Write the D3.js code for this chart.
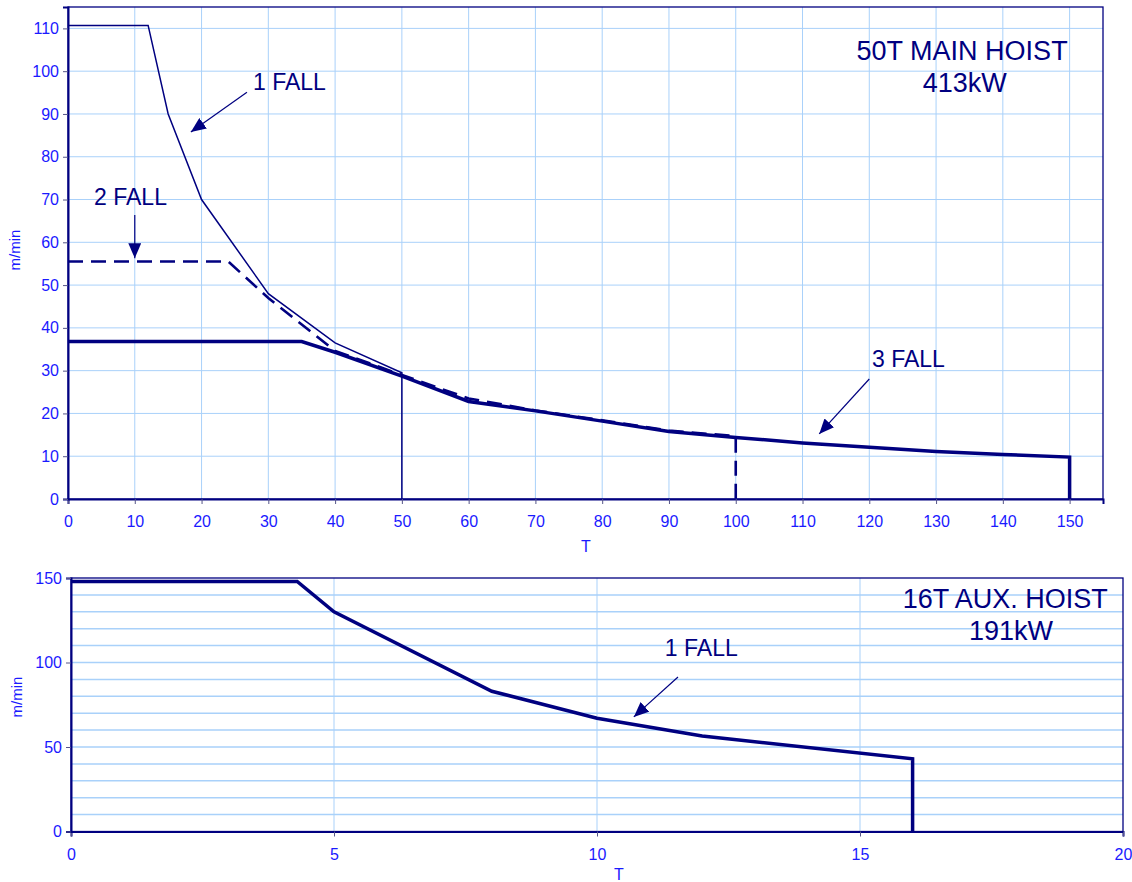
<!DOCTYPE html>
<html><head><meta charset="utf-8">
<script src="https://cdn.jsdelivr.net/npm/d3@7"></script>
<style>body{margin:0;background:#fff} svg{display:block} text{font-family:"Liberation Sans",Arial,sans-serif}</style>
</head><body><svg id="c" width="1132" height="882"></svg>
<script>
// ---- data: 50T main hoist ----
const mainXTicks = d3.range(0, 151, 10);
const mainYTicks = d3.range(0, 111, 10);
const main1FallT = [0, 12, 15, 20, 30, 40, 50, 50];
const main1FallV = [110.7, 110.7, 90, 70, 48, 36.5, 29.5, 0];
const main2FallT = [0, 24, 30, 40, 50, 60, 70, 80, 90, 100, 100];
const main2FallV = [55.5, 55.5, 47, 34.6, 29, 23.5, 20.7, 18.4, 16, 14.7, 0];
const main3FallT = [0, 35, 40, 50, 60, 70, 80, 90, 100, 110, 120, 130, 140, 150, 150];
const main3FallV = [36.8, 36.8, 34.3, 28.7, 22.8, 20.6, 18.2, 15.8, 14.4, 13.1, 12.1, 11.1, 10.4, 9.8, 0];
// ---- data: 16T aux hoist ----
const auxXTicks = [0, 5, 10, 15, 20];
const auxYTicks = [0, 50, 100, 150];
const aux1FallT = [0, 4.3, 5, 8, 10, 12, 16, 16];
const aux1FallV = [148, 148, 130, 83, 67, 56.5, 43, 0];

const NAVY = "#000080", BLUE = "#1a1aff", GRID = "#a9d1fa";
const svg = d3.select("#c");
const defs = svg.append("defs");
defs.append("marker").attr("id", "ah").attr("viewBox", "0 0 10 10")
  .attr("refX", 10).attr("refY", 5).attr("markerWidth", 15).attr("markerHeight", 13)
  .attr("markerUnits", "userSpaceOnUse").attr("orient", "auto")
  .attr("preserveAspectRatio", "none")
  .append("path").attr("d", "M0,0 L10,5 L0,10 Z").attr("fill", NAVY);

function zip(a, b) { return a.map((t, i) => [t, b[i]]); }

function panel(cfg) {
  const x = d3.scaleLinear().domain(cfg.xDom).range(cfg.xRange);
  const y = d3.scaleLinear().domain(cfg.yDom).range(cfg.yRange);
  const g = svg.append("g");
  g.append("g").selectAll("line").data(cfg.vGrid).join("line")
    .attr("x1", d => x(d)).attr("x2", d => x(d))
    .attr("y1", y.range()[0]).attr("y2", y.range()[1])
    .attr("stroke", GRID).attr("stroke-width", 1);
  g.append("g").selectAll("line").data(cfg.hGrid).join("line")
    .attr("y1", d => y(d)).attr("y2", d => y(d))
    .attr("x1", x.range()[0]).attr("x2", x.range()[1])
    .attr("stroke", GRID).attr("stroke-width", cfg.hGridW || 1);
  g.append("rect").attr("x", x.range()[0]).attr("y", y.range()[1])
    .attr("width", x.range()[1] - x.range()[0]).attr("height", y.range()[0] - y.range()[1])
    .attr("fill", "none").attr("stroke", NAVY).attr("stroke-width", 1.3);
  const xa = g.append("g").attr("transform", `translate(0,${y.range()[0]})`)
    .call(d3.axisBottom(x).tickValues(cfg.xTicks).tickSize(5).tickPadding(12).tickFormat(d3.format("d")));
  const ya = g.append("g").attr("transform", `translate(${x.range()[0]},0)`)
    .call(d3.axisLeft(y).tickValues(cfg.yTicks).tickSize(5).tickPadding(4).tickFormat(d3.format("d")));
  [xa, ya].forEach(a => {
    a.select(".domain").attr("stroke", NAVY).attr("stroke-width", 2);
    a.selectAll(".tick line").attr("stroke", "#555588");
    a.selectAll(".tick text").attr("fill", BLUE).attr("font-size", 16)
      .attr("font-family", '"Liberation Sans", Arial, sans-serif');
  });
  return { x, y, g };
}

// ---------- top panel ----------
const P1 = panel({
  xDom: [0, 155], xRange: [68, 1103], yDom: [0, 115], yRange: [499, 7],
  xTicks: mainXTicks, yTicks: mainYTicks,
  vGrid: d3.range(10, 151, 10), hGrid: d3.range(10, 111, 10)
});
const line1 = d3.line().x(d => P1.x(d[0])).y(d => P1.y(d[1]));
P1.g.append("path").attr("d", line1(zip(main1FallT, main1FallV)))
  .attr("fill", "none").attr("stroke", NAVY).attr("stroke-width", 1.5);
P1.g.append("path").attr("d", line1(zip(main2FallT, main2FallV)))
  .attr("fill", "none").attr("stroke", NAVY).attr("stroke-width", 2.6)
  .attr("stroke-dasharray", "15,8");
P1.g.append("path").attr("d", line1(zip(main3FallT, main3FallV)))
  .attr("fill", "none").attr("stroke", NAVY).attr("stroke-width", 3.5);

function note(P, t, v, txt, size, anchor) {
  P.g.append("text").attr("x", P.x(t)).attr("y", P.y(v)).text(txt)
    .attr("fill", NAVY).attr("font-size", size).attr("text-anchor", anchor || "start");
}
function arrow(P, t0, v0, t1, v1) {
  P.g.append("line").attr("x1", P.x(t0)).attr("y1", P.y(v0)).attr("x2", P.x(t1)).attr("y2", P.y(v1))
    .attr("stroke", NAVY).attr("stroke-width", 1.2).attr("marker-end", "url(#ah)");
}
note(P1, 27.7, 95.6, "1 FALL", 23);
arrow(P1, 26.8, 95.1, 18.4, 85.8);
note(P1, 3.9, 68.7, "2 FALL", 23);
arrow(P1, 10, 66.4, 10, 56.3);
note(P1, 120.4, 30.9, "3 FALL", 23);
arrow(P1, 120, 28.05, 112.5, 15.2);
note(P1, 133.9, 102.6, "50T MAIN HOIST", 27, "middle");
note(P1, 134.3, 95.1, "413kW", 27, "middle");

svg.append("text").attr("transform", "translate(20,250) rotate(-90)")
  .attr("text-anchor", "middle").attr("fill", BLUE).attr("font-size", 15).text("m/min");
svg.append("text").attr("x", 586).attr("y", 552).attr("text-anchor", "middle")
  .attr("fill", BLUE).attr("font-size", 16).text("T");

// ---------- bottom panel ----------
const P2 = panel({
  xDom: [0, 20], xRange: [71, 1123], yDom: [0, 150], yRange: [831.5, 578],
  xTicks: auxXTicks, yTicks: auxYTicks,
  vGrid: [5, 10, 15], hGrid: d3.range(10, 150, 10), hGridW: 1.5
});
const line2 = d3.line().x(d => P2.x(d[0])).y(d => P2.y(d[1]));
P2.g.append("path").attr("d", line2(zip(aux1FallT, aux1FallV)))
  .attr("fill", "none").attr("stroke", NAVY).attr("stroke-width", 3.5);
note(P2, 11.29, 103.8, "1 FALL", 23);
arrow(P2, 11.54, 91.4, 10.7, 67.8);
note(P2, 17.76, 132.2, "16T AUX. HOIST", 27, "middle");
note(P2, 17.87, 113.3, "191kW", 27, "middle");

svg.append("text").attr("transform", "translate(22,697) rotate(-90)")
  .attr("text-anchor", "middle").attr("fill", BLUE).attr("font-size", 15).text("m/min");
svg.append("text").attr("x", 619).attr("y", 880).attr("text-anchor", "middle")
  .attr("fill", BLUE).attr("font-size", 16).text("T");
</script></body></html>
